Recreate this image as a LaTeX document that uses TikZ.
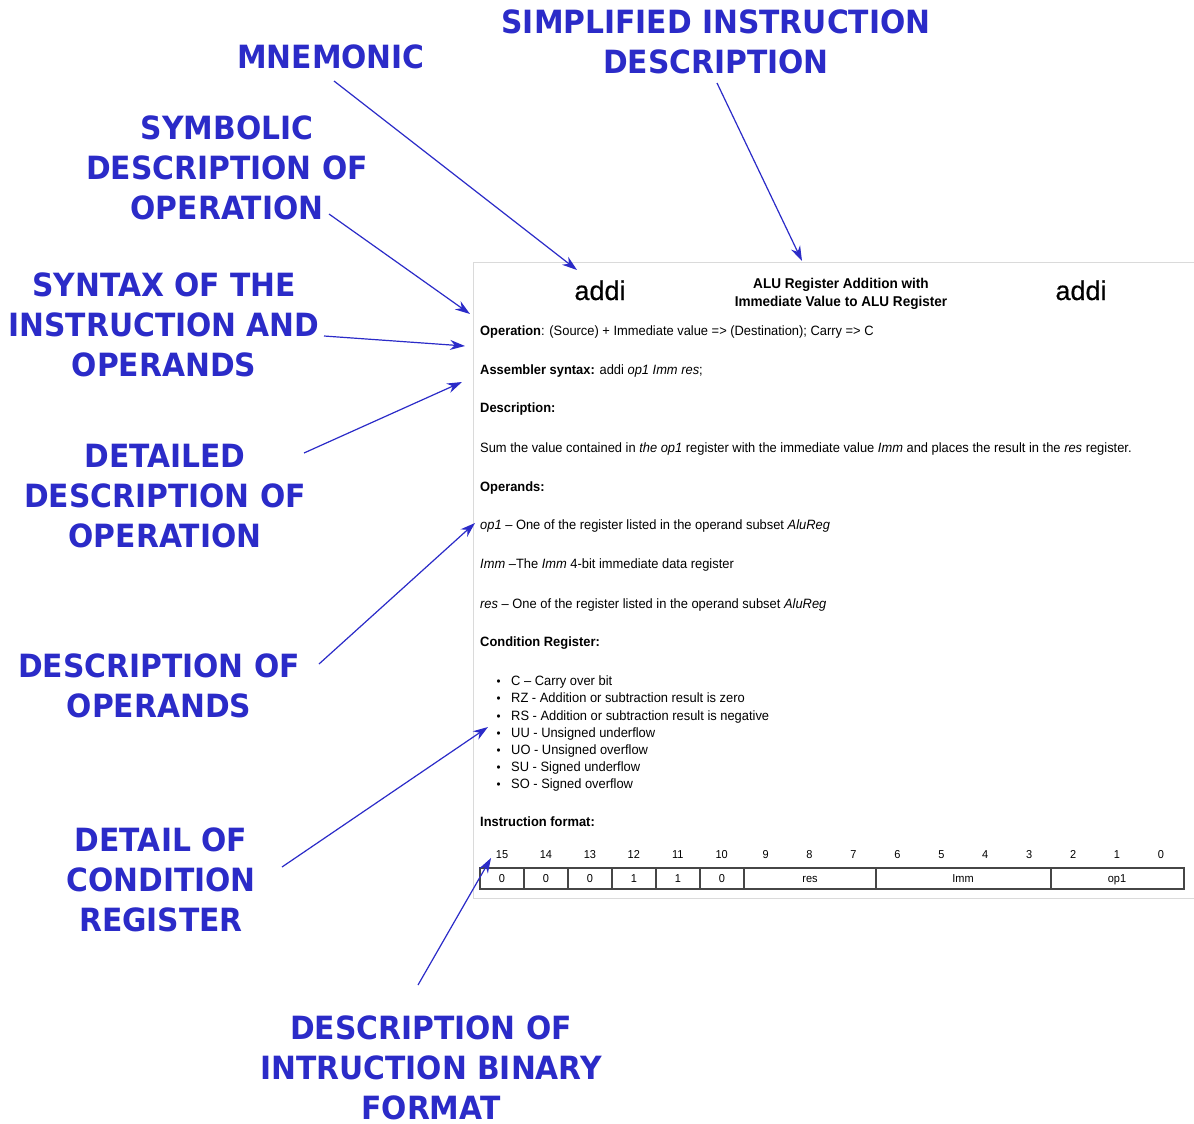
\documentclass[tikz,border=0pt]{standalone}
\usepackage{fontspec}
\setmainfont{Liberation Sans}[FakeStretch=0.955]
\newfontfamily\labfont[FakeStretch=0.93]{DejaVu Sans}
\newfontfamily\mnfont[FakeBold=0.5]{Liberation Sans}
\usetikzlibrary{arrows.meta}
\definecolor{lblue}{RGB}{43,43,200}
\definecolor{panelgray}{RGB}{218,218,218}
\definecolor{cellgray}{RGB}{70,70,70}

\begin{document}
\begin{tikzpicture}[x=1pt,y=-1pt,
  callout/.style={font=\labfont\bfseries\fontsize{32}{40}\selectfont, text=lblue, align=center, inner sep=0pt},
  pointer/.style={draw=lblue, line width=1.2pt, -{Stealth[length=15pt,width=10pt]}},
  doc/.style={font=\fontsize{13.5}{15}\selectfont, anchor=base west, inner sep=0pt},
  bitno/.style={font=\fontsize{11.5}{13}\selectfont, anchor=base, inner sep=0pt},
  cell/.style={font=\fontsize{11.5}{13}\selectfont, anchor=base, inner sep=0pt},
  mnemo/.style={font=\mnfont\fontsize{27}{30}\selectfont, anchor=base, inner sep=0pt}]

\useasboundingbox (0,0) rectangle (1194,1124);
\fill[white] (0,0) rectangle (1194,1124);

% ---------- instruction sheet ----------
\draw[panelgray, line width=1pt] (1194,262) -- (473,262) -- (473,898) -- (1194,898);

\node[mnemo] (mn-left) at (600,300) {addi};
\node[mnemo] (mn-right) at (1081,300) {addi};
\node[font=\bfseries\fontsize{14.2}{18}\selectfont, align=center, inner sep=0pt] (title) at (841,294)
  {ALU Register Addition with\\Immediate Value to ALU Register};

\node[doc] (op) at (480,335.5) {\textbf{Operation}: (Source) + Immediate value => (Destination); Carry => C};
\node[doc] (asm) at (480,374.5) {\textbf{Assembler syntax:} addi \textit{op1 Imm res};};
\node[doc] (dsc) at (480,412.5) {\textbf{Description:}};
\node[doc] (sum) at (480,452.5) {Sum the value contained in \textit{the op1} register with the immediate value \textit{Imm} and places the result in the \textit{res} register.};
\node[doc] (opr) at (480,491.5) {\textbf{Operands:}};
\node[doc] (op1) at (480,529.5) {\textit{op1} -- One of the register listed in the operand subset \textit{AluReg}};
\node[doc] (imm) at (480,568.5) {\textit{Imm} --The \textit{Imm} 4-bit immediate data register};
\node[doc] (res) at (480,608.5) {\textit{res} -- One of the register listed in the operand subset \textit{AluReg}};
\node[doc] (cnd) at (480,646.5) {\textbf{Condition Register:}};

\foreach \y/\t [count=\i] in {685.5/C -- Carry over bit,
    702.5/RZ - Addition or subtraction result is zero,
    720/RS - Addition or subtraction result is negative,
    737/UU - Unsigned underflow,
    754.5/UO - Unsigned overflow,
    771.5/SU - Signed underflow,
    788.5/SO - Signed overflow}{
  \node[doc, font=\fontsize{12}{14}\selectfont] (bul\i) at (496.5,\y) {\textbullet};
  \node[doc] (flag\i) at (511,\y) {\t};
}

\node[doc] (fmt) at (480,826.5) {\textbf{Instruction format:}};

% bit numbers
\foreach \b [count=\i from 0] in {15,14,...,0}{
  \node[bitno] (bit\b) at ({502+43.93*\i},858) {\b};
}

% encoding table
\draw[cellgray, line width=1.1pt] (480,868) rectangle (1184,889);
\foreach \x in {524,568,612,656,700,744,876,1051}{
  \draw[cellgray, line width=1.1pt] (\x,868) -- (\x,889);
}
\foreach \x/\v [count=\i] in {502/0,546/0,590/0,634/1,678/1,722/0,810/res,963/Imm,1117/op1}{
  \node[cell] (cell\i) at (\x,882) {\v};
}

% ---------- callouts ----------
\node[callout] (simp) at (716,42) {SIMPLIFIED INSTRUCTION\\DESCRIPTION};
\node[callout] (mnem) at (331,56.5) {MNEMONIC};
\node[callout] (symb) at (227,167.5) {SYMBOLIC\\DESCRIPTION OF\\OPERATION};
\node[callout] (synt) at (164,324.5) {SYNTAX OF THE\\INSTRUCTION AND\\OPERANDS};
\node[callout] (detl) at (165,496.5) {DETAILED\\DESCRIPTION OF\\OPERATION};
\node[callout] (opds) at (159,685.5) {DESCRIPTION OF\\OPERANDS};
\node[callout] (cond) at (161,880) {DETAIL OF\\CONDITION\\REGISTER};
\node[callout] (bin) at (431,1068) {DESCRIPTION OF\\INTRUCTION BINARY\\FORMAT};

% pointer end points
\coordinate (simp-t) at (717,83);   \coordinate (simp-h) at (802,261);
\coordinate (mnem-t) at (334,81);   \coordinate (mnem-h) at (577,270);
\coordinate (symb-t) at (329,214);  \coordinate (symb-h) at (470,314);
\coordinate (synt-t) at (324,336);  \coordinate (synt-h) at (465,346);
\coordinate (detl-t) at (304,453);  \coordinate (detl-h) at (462,382);
\coordinate (opds-t) at (319,664);  \coordinate (opds-h) at (475,523);
\coordinate (cond-t) at (282,867);  \coordinate (cond-h) at (488,727);
\coordinate (bin-t)  at (418,985);  \coordinate (bin-h)  at (491,858);

\foreach \n in {simp,mnem,symb,synt,detl,opds,cond,bin}{
  \draw[pointer] (\n-t) -- (\n-h);
}
\end{tikzpicture}
\end{document}
